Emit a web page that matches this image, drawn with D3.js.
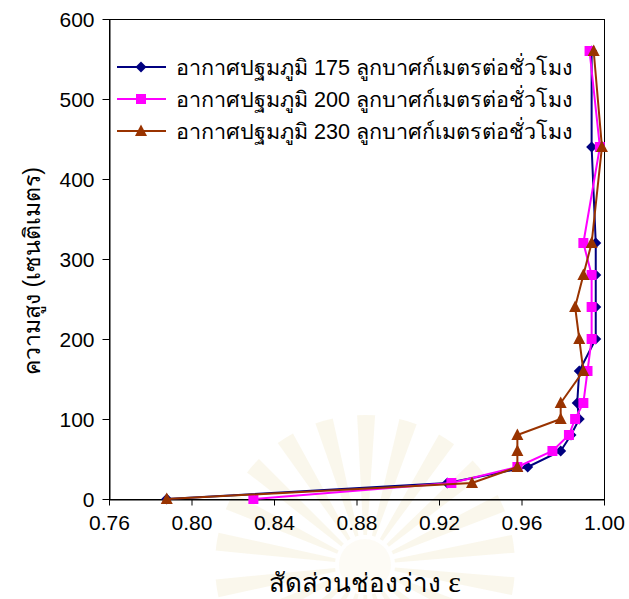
<!DOCTYPE html>
<html>
<head>
<meta charset="utf-8">
<script src="https://cdn.jsdelivr.net/npm/d3@7/dist/d3.min.js"></script>
<style>
  html, body { margin: 0; padding: 0; background: #fff; }
  svg { display: block; }
  text { font-family: "Liberation Sans", Arial, sans-serif; fill: #000; }
</style>
</head>
<body>
<svg id="chart" width="629" height="599"></svg>
<script>
// Heights (cm) at which voidage was measured
const heights = [0, 20, 40, 60, 80, 100, 120, 160, 200, 240, 280, 320, 440, 560];

// Voidage ε for each primary air flow rate
const voidage175 = [0.788, 0.924, 0.963, 0.979, 0.984, 0.988, 0.987, 0.988, 0.996, 0.996, 0.996, 0.996, 0.994, 0.994];
const voidage200 = [0.830, 0.926, 0.958, 0.975, 0.983, 0.986, 0.990, 0.992, 0.994, 0.994, 0.994, 0.990, 0.998, 0.993];
const voidage230 = [0.788, 0.936, 0.958, 0.958, 0.958, 0.979, 0.979, 0.990, 0.988, 0.986, 0.990, 0.994, 0.999, 0.995];

const seriesNames = [
  "อากาศปฐมภูมิ 175 ลูกบาศก์เมตรต่อชั่วโมง",
  "อากาศปฐมภูมิ 200 ลูกบาศก์เมตรต่อชั่วโมง",
  "อากาศปฐมภูมิ 230 ลูกบาศก์เมตรต่อชั่วโมง"
];
const xTicks = [0.76, 0.80, 0.84, 0.88, 0.92, 0.96, 1.00];
const yTicks = [0, 100, 200, 300, 400, 500, 600];
const xTitle = "สัดส่วนช่องว่าง ";
const yTitle = "ความสูง (เซนติเมตร)";

const series = [
  { name: seriesNames[0], values: voidage175, color: "#000080", marker: "diamond" },
  { name: seriesNames[1], values: voidage200, color: "#FF00FF", marker: "square" },
  { name: seriesNames[2], values: voidage230, color: "#993300", marker: "triangle" }
];

const svg = d3.select("#chart");
const plot = { left: 109, right: 604, top: 19, bottom: 499 };

const x = d3.scaleLinear().domain([0.76, 1.00]).range([plot.left, plot.right]);
const y = d3.scaleLinear().domain([0, 600]).range([plot.bottom, plot.top]);

// faint emblem in the background
const burst = svg.append("g").attr("transform", "translate(365,565)");
const rayArc = d3.arc();
for (let i = 0; i < 22; i++) {
  const a = -Math.PI * 0.95 + i * (Math.PI * 1.9 / 21);
  burst.append("path")
    .attr("d", rayArc({ innerRadius: 30, outerRadius: 150, startAngle: a + Math.PI / 2 - 0.06, endAngle: a + Math.PI / 2 + 0.06 }))
    .attr("fill", "#f6f1e0")
    .attr("opacity", 0.6);
}
burst.append("circle").attr("r", 26).attr("fill", "#fbf8ef").attr("opacity", 0.6);

// plot frame
svg.append("rect")
  .attr("x", plot.left + 0.5).attr("y", plot.top + 0.5)
  .attr("width", plot.right - plot.left).attr("height", plot.bottom - plot.top)
  .attr("fill", "none").attr("stroke", "#000").attr("stroke-width", 1);

// axes
const xAxis = d3.axisBottom(x).tickValues(xTicks).tickFormat(d3.format(".2f")).tickSizeOuter(0).tickSizeInner(6).tickPadding(10);
const yAxis = d3.axisLeft(y).tickValues(yTicks).tickFormat(d3.format("d")).tickSizeOuter(0).tickSizeInner(7).tickPadding(8);

const gx = svg.append("g").attr("transform", `translate(0,${plot.bottom + 0.5})`).call(xAxis);
const gy = svg.append("g").attr("transform", `translate(${plot.left + 0.5},0)`).call(yAxis);
[gx, gy].forEach(g => {
  g.selectAll("path.domain").attr("stroke", "#000");
  g.selectAll("line").attr("stroke", "#000");
  g.selectAll("text").attr("font-size", 21).attr("fill", "#000")
    .attr("font-family", "'Liberation Sans', Arial, sans-serif");
});
gy.selectAll("text").attr("dy", "0.35em");

// axis titles
const xt = svg.append("text")
  .attr("x", 365).attr("y", 592)
  .attr("text-anchor", "middle")
  .attr("font-size", 26);
xt.append("tspan").text(xTitle);
xt.append("tspan").attr("font-family", "'Liberation Serif', 'Times New Roman', serif").attr("font-size", 30).text("ε");

svg.append("text")
  .attr("transform", `translate(40,271) rotate(-90)`)
  .attr("text-anchor", "middle")
  .attr("font-size", 23)
  .text(yTitle);

// markers
function drawMarker(g, type, cx, cy, color) {
  if (type === "diamond") {
    g.append("path").attr("d", `M${cx},${cy - 5.5}L${cx + 5.5},${cy}L${cx},${cy + 5.5}L${cx - 5.5},${cy}Z`)
      .attr("fill", color);
  } else if (type === "square") {
    g.append("rect").attr("x", cx - 5).attr("y", cy - 5).attr("width", 10).attr("height", 10)
      .attr("fill", color);
  } else {
    g.append("path").attr("d", `M${cx},${cy - 6.5}L${cx + 6},${cy + 5}L${cx - 6},${cy + 5}Z`)
      .attr("fill", color);
  }
}

const line = d3.line().x(d => x(d.v)).y(d => y(d.h));

series.forEach(s => {
  const pts = heights.map((h, i) => ({ h, v: s.values[i] }));
  const g = svg.append("g");
  g.append("path").datum(pts).attr("d", line)
    .attr("fill", "none").attr("stroke", s.color).attr("stroke-width", 2);
  pts.forEach(p => drawMarker(g, s.marker, x(p.v), y(p.h), s.color));
});

// legend
const legend = svg.append("g");
series.forEach((s, i) => {
  const ly = 67 + i * 32;
  legend.append("line").attr("x1", 117).attr("x2", 166).attr("y1", ly).attr("y2", ly)
    .attr("stroke", s.color).attr("stroke-width", 2);
  drawMarker(legend, s.marker, 141, ly, s.color);
  legend.append("text").attr("x", 176).attr("y", ly).attr("dy", "0.35em")
    .attr("font-size", 21.6).text(s.name);
});
</script>
</body>
</html>
